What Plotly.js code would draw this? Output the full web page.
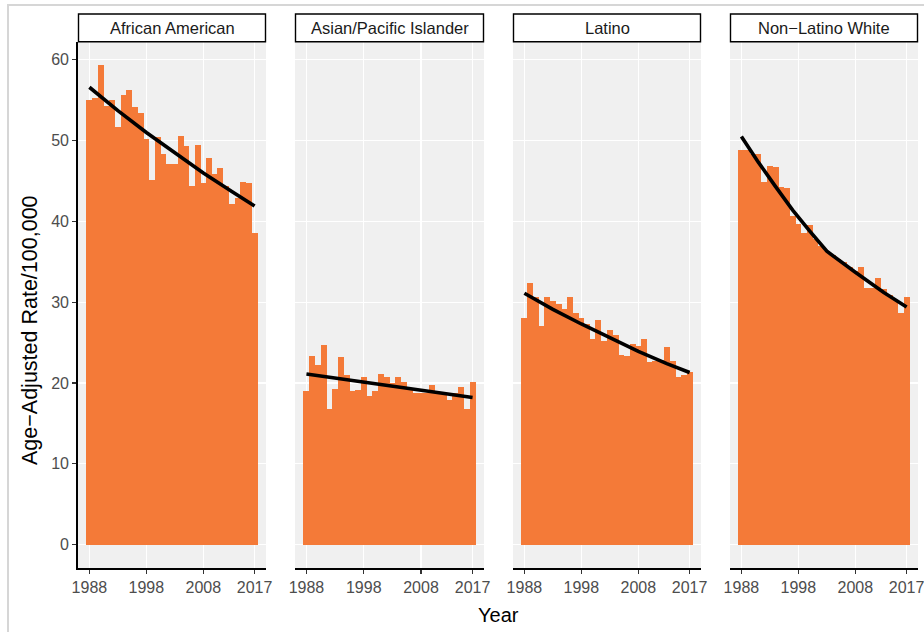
<!DOCTYPE html>
<html>
<head>
<meta charset="utf-8">
<script src="https://cdn.plot.ly/plotly-3.0.1.min.js"></script>
<style>
  html, body { margin: 0; padding: 0; background: #ffffff; overflow: hidden; }
  #chart { width: 924px; height: 632px; position: relative; }
  #frame { position: absolute; left: 7px; top: 4px; width: 1000px; height: 1000px;
           border-top: 2px solid #d6d6d6; border-left: 2px solid #d6d6d6; pointer-events: none; }
</style>
</head>
<body>
<div id="chart"></div>
<div id="frame"></div>
<script>
// ---- data ----
const years = [1988, 1989, 1990, 1991, 1992, 1993, 1994, 1995, 1996, 1997,
               1998, 1999, 2000, 2001, 2002, 2003, 2004, 2005, 2006, 2007,
               2008, 2009, 2010, 2011, 2012, 2013, 2014, 2015, 2016, 2017];

const panelNames = ["African American", "Asian/Pacific Islander", "Latino", "Non\u2212Latino White"];

const africanAmerican = [55.0, 55.3, 59.3, 54.3, 55.0, 51.7, 55.6, 56.3, 54.2, 53.4,
                         50.2, 45.1, 50.5, 48.4, 47.1, 47.1, 50.6, 49.3, 44.4, 49.5,
                         44.7, 47.9, 45.9, 46.6, 44.4, 42.2, 42.9, 44.9, 44.8, 38.6];

const asianPacificIslander = [19.0, 23.4, 22.2, 24.7, 16.8, 19.3, 23.2, 21.0, 19.0, 19.1,
                              20.7, 18.4, 19.0, 21.1, 20.8, 20.0, 20.8, 20.1, 19.1, 18.7,
                              18.7, 18.7, 19.8, 18.7, 18.6, 17.9, 18.7, 19.5, 16.8, 20.1];

const latino = [28.0, 32.4, 30.6, 27.0, 30.7, 30.2, 29.8, 29.2, 30.6, 28.7,
                28.0, 27.3, 25.5, 27.8, 25.2, 26.5, 25.9, 23.5, 23.4, 24.8,
                24.6, 25.4, 22.6, 22.7, 22.9, 24.5, 22.7, 20.8, 21.0, 21.3];

const nonLatinoWhite = [48.8, 48.8, 48.4, 48.3, 44.9, 46.9, 46.7, 44.2, 44.1, 40.7,
                        39.7, 38.6, 39.6, 37.8, 37.0, 36.3, 35.8, 35.3, 35.0, 34.4,
                        33.8, 34.4, 31.7, 31.7, 33.0, 31.6, 30.9, 30.3, 28.6, 30.6];

// fitted trend lines
const trendAAYears = [1988, 1993, 1998, 2003, 2008, 2013, 2017];
const trendAA      = [56.6, 53.7, 51.0, 48.5, 46.0, 43.7, 41.9];
const trendAPIYears = [1988, 1998, 2008, 2017];
const trendAPI      = [21.1, 20.1, 19.1, 18.2];
const trendLatYears = [1988, 1993, 1998, 2003, 2008, 2013, 2017];
const trendLat      = [31.1, 29.1, 27.3, 25.6, 23.9, 22.4, 21.3];
const trendNLWYears = [1988, 1991, 1994, 1997, 2000, 2003, 2008, 2013, 2017];
const trendNLW      = [50.5, 47.3, 44.3, 41.4, 38.8, 36.3, 33.7, 31.2, 29.4];

const xTicks = [1988, 1998, 2008, 2017];
const yTicks = [0, 10, 20, 30, 40, 50, 60];

// ---- styling / layout ----
const W = 924, H = 632;
const FONT = "Liberation Sans, Arial, sans-serif";
const BAR = "#F47A38";
const panelPx = [[78, 266], [295, 484], [513, 701], [730, 918]];
const plotTop = 42, plotBottom = 568;
const stripTop = 14, stripBottom = 41.7;

const seriesList = [africanAmerican, asianPacificIslander, latino, nonLatinoWhite];
const trendX = [trendAAYears, trendAPIYears, trendLatYears, trendNLWYears];
const trendY = [trendAA, trendAPI, trendLat, trendNLW];

const px2x = p => p / W;
const px2y = p => (H - p) / H;

const data = [];
const layout = {
  width: W, height: H,
  margin: {l: 0, r: 0, t: 0, b: 0},
  paper_bgcolor: "#ffffff",
  plot_bgcolor: "#F0F0F0",
  showlegend: false,
  bargap: 0,
  font: {family: FONT, color: "#000000"},
  shapes: [],
  annotations: []
};

for (let i = 0; i < 4; i++) {
  const sx = i === 0 ? "" : String(i + 1);
  data.push({
    type: "bar", x: years, y: seriesList[i], width: 1.05,
    xaxis: "x" + sx, yaxis: "y" + sx,
    marker: {color: BAR, line: {width: 0}},
    hoverinfo: "x+y"
  });
  data.push({
    type: "scatter", mode: "lines", x: trendX[i], y: trendY[i],
    xaxis: "x" + sx, yaxis: "y" + sx,
    line: {color: "#000000", width: 3.6}
  });

  layout["xaxis" + sx] = {
    domain: [px2x(panelPx[i][0]), px2x(panelPx[i][1])],
    anchor: "y" + sx,
    range: [1986, 2019],
    tickvals: xTicks, ticktext: xTicks.map(String),
    ticks: "outside", ticklen: 4, tickwidth: 1.2, tickcolor: "#333333",
    ticklabeloverflow: "allow",
    showline: true, linecolor: "#000000", linewidth: 1.8,
    showgrid: true, gridcolor: "#ffffff", gridwidth: 1.2,
    zeroline: false,
    tickfont: {family: FONT, size: 16, color: "#4D4D4D"},
    fixedrange: true
  };
  layout["yaxis" + sx] = {
    domain: [px2y(plotBottom), px2y(plotTop)],
    anchor: "x" + sx,
    range: [-2.9, 62.2],
    tickvals: yTicks,
    showticklabels: i === 0,
    ticks: i === 0 ? "outside" : "",
    ticklen: 4, tickwidth: 1.2, tickcolor: "#333333",
    showline: i === 0, linecolor: "#000000", linewidth: 1.8,
    showgrid: true, gridcolor: "#ffffff", gridwidth: 1.2,
    zeroline: false,
    tickfont: {family: FONT, size: 16, color: "#4D4D4D"},
    fixedrange: true
  };

  // facet strip
  layout.shapes.push({
    type: "rect", xref: "paper", yref: "paper",
    x0: px2x(panelPx[i][0] + 0.5), x1: px2x(panelPx[i][1] - 0.5),
    y0: px2y(stripBottom), y1: px2y(stripTop),
    fillcolor: "#ffffff", line: {color: "#000000", width: 1.4}
  });
  layout.annotations.push({
    xref: "paper", yref: "paper",
    x: px2x((panelPx[i][0] + panelPx[i][1]) / 2), y: px2y((stripTop + stripBottom) / 2),
    text: panelNames[i], showarrow: false,
    xanchor: "center", yanchor: "middle",
    font: {family: FONT, size: 16.5, color: "#1A1A1A"}
  });
}

// axis titles
layout.annotations.push({
  xref: "paper", yref: "paper",
  x: px2x(498), y: px2y(615),
  text: "Year", showarrow: false, xanchor: "center", yanchor: "middle",
  font: {family: FONT, size: 20, color: "#000000"}
});
layout.annotations.push({
  xref: "paper", yref: "paper",
  x: px2x(30), y: px2y(330),
  text: "Age\u2212Adjusted Rate/100,000", showarrow: false, textangle: -90,
  xanchor: "center", yanchor: "middle",
  font: {family: FONT, size: 21.5, color: "#000000"}
});

Plotly.newPlot("chart", data, layout, {displayModeBar: false, staticPlot: true});
</script>
</body>
</html>
